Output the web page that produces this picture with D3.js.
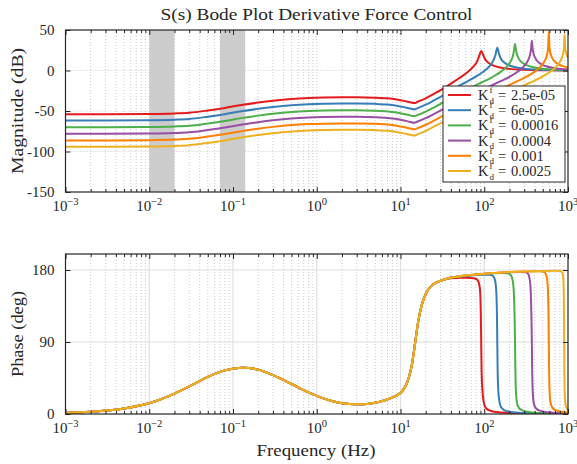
<!DOCTYPE html>
<html>
<head>
<meta charset="utf-8">
<script src="https://cdn.jsdelivr.net/npm/d3@7"></script>
<style>
  body { margin: 0; background: #fff; }
  text { font-family: "Liberation Serif", "Times New Roman", serif; fill: #262626; }
</style>
</head>
<body>
<svg id="chart" width="577" height="464"></svg>
<script>
// Derivative gains of the force loop, one curve each
const kdLabels = ["2.5e-05", "6e-05", "0.00016", "0.0004", "0.001", "0.0025"];
const colors = ["#e41a1c", "#377eb8", "#4daf4a", "#984ea3", "#ff7f00", "#edb120"];

// Magnitude (dB) below the 15 Hz notch, shared frequency grid
const freqLow = [0.001, 0.003, 0.01, 0.02, 0.03, 0.05, 0.08, 0.12, 0.2, 0.3, 0.5, 0.8, 1.2, 2, 3, 5, 7, 9, 11, 13, 14.6];
const magLow = [
  [-54.0, -54.0, -53.7, -53.0, -52.1, -49.3, -46.2, -43.0, -39.6, -37.3, -35.1, -33.9, -33.3, -33.0, -33.0, -33.5, -34.4, -35.8, -37.5, -39.3, -40.2],
  [-61.7, -61.7, -61.4, -60.7, -59.8, -57.0, -53.9, -50.7, -47.3, -45.0, -42.8, -41.6, -41.0, -40.7, -40.7, -41.2, -42.1, -43.5, -45.2, -47.0, -47.9],
  [-70.1, -70.1, -69.8, -69.1, -68.2, -65.4, -62.3, -59.1, -55.7, -53.4, -51.2, -50.0, -49.4, -49.1, -49.1, -49.6, -50.5, -51.9, -53.6, -55.4, -56.3],
  [-78.2, -78.2, -77.9, -77.2, -76.3, -73.5, -70.4, -67.2, -63.8, -61.5, -59.3, -58.1, -57.5, -57.2, -57.2, -57.7, -58.6, -60.0, -61.7, -63.5, -64.4],
  [-86.3, -86.3, -86.0, -85.3, -84.4, -81.6, -78.5, -75.3, -71.9, -69.6, -67.4, -66.2, -65.6, -65.3, -65.3, -65.8, -66.7, -68.1, -69.8, -71.6, -72.5],
  [-94.1, -94.1, -93.8, -93.1, -92.2, -89.4, -86.3, -83.1, -79.7, -77.4, -75.2, -74.0, -73.4, -73.1, -73.1, -73.6, -74.5, -75.9, -77.6, -79.4, -80.3]
];

// Magnitude (dB) above the notch, through each resonance
const magHighFreq = [
  [16, 20, 25, 32, 40, 50, 63, 75, 82.8, 87.4, 92, 96.6, 101.2, 112, 125, 150, 200, 300, 500, 1000],
  [16, 20, 25, 32, 40, 50, 63, 80, 100, 115, 128.7, 135.9, 143, 150.2, 157.3, 175, 200, 250, 320, 400, 600, 1000],
  [16, 20, 25, 32, 40, 50, 63, 80, 100, 125, 160, 185, 209.7, 221.4, 228.3, 233, 237.7, 244.7, 256.3, 290, 350, 450, 600, 800, 1000],
  [16, 20, 25, 32, 40, 50, 63, 80, 100, 125, 160, 200, 250, 295, 333, 351.5, 362.6, 370, 377.4, 388.5, 407, 460, 550, 700, 1000],
  [16, 20, 25, 32, 40, 50, 63, 80, 100, 125, 160, 200, 250, 320, 400, 470, 531, 560.5, 578.2, 590, 601.8, 619.5, 649, 730, 850, 1000],
  [16, 20, 25, 32, 40, 50, 63, 80, 100, 125, 160, 200, 250, 320, 400, 500, 630, 740, 819, 864.5, 891.8, 910, 928, 955.5, 1000]
];
const magHighDb = [
  [-38.6, -34.3, -28.9, -22.6, -16.1, -9.6, -2.1, 5.4, 12.0, 18.7, 24.0, 19.7, 14.8, 9.5, 6.6, 4.0, 2.0, 0.8, 0.3, 0.1],
  [-46.4, -42.2, -37.0, -31.0, -24.9, -19.1, -13.4, -7.3, -0.7, 5.0, 12.4, 19.1, 28.0, 20.5, 15.1, 9.5, 6.2, 3.4, 1.9, 1.2, 0.5, 0.2],
  [-55.0, -50.8, -45.7, -39.7, -33.9, -28.3, -23.1, -18.0, -13.2, -8.1, -1.1, 4.5, 12.5, 19.2, 27.0, 32.7, 27.5, 20.6, 15.2, 9.0, 5.1, 2.7, 1.4, 0.8, 0.5],
  [-63.0, -58.9, -53.8, -47.9, -42.0, -36.6, -31.5, -26.7, -22.4, -18.0, -12.9, -7.8, -1.6, 4.7, 12.5, 19.2, 27.0, 36.8, 27.5, 20.6, 15.2, 9.0, 5.2, 2.8, 1.3],
  [-71.2, -67.0, -61.9, -56.0, -50.2, -44.8, -39.8, -35.0, -30.9, -26.8, -22.1, -17.8, -13.2, -7.6, -1.4, 4.8, 12.5, 19.2, 27.0, 48.0, 27.5, 20.6, 15.2, 9.2, 5.7, 3.7],
  [-78.7, -74.5, -69.4, -63.6, -57.8, -52.4, -47.4, -42.7, -38.6, -34.5, -30.0, -26.0, -21.8, -17.0, -12.4, -7.3, -0.7, 5.8, 12.5, 19.2, 27.0, 44.0, 27.5, 20.6, 15.3]
];

// Phase (deg) common to all gains up to 32 Hz
const phaseLowFreq = [0.001, 0.002, 0.005, 0.01, 0.02, 0.03, 0.05, 0.08, 0.13, 0.2, 0.3, 0.5, 0.8, 1.2, 2, 3, 4, 5.5, 7.5, 10, 11.5, 12.6, 13.7, 15, 16.3, 17.8, 20, 23, 27, 32];
const phaseLowDeg = [1.4, 2.8, 7.0, 13.5, 25.5, 34.5, 46.5, 54.5, 57.8, 55.5, 48.5, 37.5, 27, 19.5, 13.5, 12.3, 12.6, 15, 19.5, 26.5, 35, 46, 62, 90, 116, 135, 150, 159.5, 164.5, 167.5];

// Phase (deg) from 40 Hz, each with its drop at resonance
const phaseHighFreq = [
  [40, 50, 63, 75, 82, 86, 89, 91, 92, 93, 95, 98.5, 104, 115, 140, 200, 400, 1000],
  [40, 50, 63, 80, 100, 115, 125, 132, 137, 140, 142, 143, 144.5, 147, 152, 160, 175, 220, 350, 600, 1000],
  [40, 50, 63, 80, 100, 130, 160, 190, 205, 215, 223, 228, 231, 233, 235, 238, 245, 258, 285, 350, 550, 1000],
  [40, 50, 63, 80, 100, 130, 160, 200, 260, 310, 330, 345, 355, 362, 367, 370, 373, 378, 388, 408, 450, 560, 1000],
  [40, 50, 63, 80, 100, 130, 160, 200, 300, 420, 500, 530, 555, 570, 580, 586, 590, 594, 601, 617, 650, 720, 900, 1000],
  [40, 50, 63, 80, 100, 130, 160, 200, 300, 500, 700, 820, 860, 880, 890, 896, 900, 904, 912, 930, 960, 1000]
];
const phaseHighDeg = [
  [169.8, 170.2, 170.4, 169.8, 168, 164, 155, 125, 90, 55, 30, 15, 8, 4.5, 2.5, 1.4, 0.6, 0.25],
  [170.3, 171.5, 172.6, 173.6, 174.2, 174.2, 173.2, 170, 162, 148, 120, 90, 55, 30, 15, 8, 4.5, 2.2, 1.0, 0.5, 0.3],
  [170.5, 172, 173.2, 174.2, 175, 175.8, 176.2, 176, 174.5, 170, 160, 140, 115, 90, 60, 32, 15, 8, 4.5, 2.3, 1.0, 0.4],
  [170.5, 172, 173.3, 174.4, 175.3, 176.2, 176.7, 177.2, 177.5, 177.3, 176, 171, 162, 142, 115, 90, 60, 32, 15, 8, 4.5, 2.3, 0.8],
  [170.5, 172, 173.3, 174.4, 175.4, 176.3, 176.9, 177.4, 178.0, 178.3, 178.2, 177, 172, 163, 145, 118, 90, 60, 32, 15, 8, 4.5, 2.3, 1.8],
  [170.5, 172, 173.3, 174.4, 175.4, 176.3, 176.9, 177.4, 178.1, 178.7, 179.0, 178.8, 176, 168, 150, 120, 90, 60, 30, 14, 8, 4.5]
];

// Shaded frequency bands (Hz) on the magnitude plot
const shadedBands = [[0.01, 0.02], [0.07, 0.14]];

const decadeTicks = [1e-3, 1e-2, 1e-1, 1e0, 1e1, 1e2, 1e3];
const magTicks = [-150, -100, -50, 0, 50];
const phaseTicks = [0, 90, 180];

const svg = d3.select("#chart");
const ink = "#262626";
const serif = '"Liberation Serif", "Times New Roman", serif';
const left = 65.5, right = 568;

const x = d3.scaleLog().domain([1e-3, 1e3]).range([left, right]);
const yMag = d3.scaleLinear().domain([-150, 50]).range([192, 30]);
const yPh = d3.scaleLinear().domain([0, 200]).range([414, 254]);

const minorTicks = [];
for (let e = -3; e < 3; e++) for (let k = 2; k <= 9; k++) minorTicks.push(k * Math.pow(10, e));

const magSeries = magLow.map((row, i) =>
  freqLow.map((f, j) => [f, row[j]])
    .concat(magHighFreq[i].map((f, j) => [f, magHighDb[i][j]])));
const phaseSeries = phaseHighFreq.map((fr, i) =>
  phaseLowFreq.map((f, j) => [f, phaseLowDeg[j]])
    .concat(fr.map((f, j) => [f, phaseHighDeg[i][j]])));

function panel(id, y, ticks, data, opts) {
  const [y0, y1] = y.range();
  const top = y1, bottom = y0;
  const g = svg.append("g");

  g.append("clipPath").attr("id", id + "-clip")
    .append("rect").attr("x", left).attr("y", top)
    .attr("width", right - left).attr("height", bottom - top);

  // grid
  const majorColor = opts.solidMajor ? "#dedede" : "#bdbdbd";
  const majorWidth = opts.solidMajor ? 1.2 : 0.8;
  const majorDash = opts.solidMajor ? null : "1,2";
  const grid = g.append("g");
  grid.selectAll(".minor").data(minorTicks).join("line")
    .attr("x1", d => x(d)).attr("x2", d => x(d)).attr("y1", top).attr("y2", bottom)
    .attr("stroke", "#bdbdbd").attr("stroke-width", 0.8).attr("stroke-dasharray", "1,2");
  grid.selectAll(".major").data(decadeTicks.slice(1, -1)).join("line")
    .attr("x1", d => x(d)).attr("x2", d => x(d)).attr("y1", top).attr("y2", bottom)
    .attr("stroke", majorColor).attr("stroke-width", majorWidth).attr("stroke-dasharray", majorDash);
  grid.selectAll(".hgrid").data(ticks.filter(t => t > y.domain()[0] && t < y.domain()[1])).join("line")
    .attr("x1", left).attr("x2", right).attr("y1", d => y(d)).attr("y2", d => y(d))
    .attr("stroke", majorColor).attr("stroke-width", majorWidth).attr("stroke-dasharray", majorDash);

  // shaded bands
  if (opts.bands) {
    g.append("g").selectAll("rect").data(opts.bands).join("rect")
      .attr("x", d => x(d[0])).attr("width", d => x(d[1]) - x(d[0]))
      .attr("y", top).attr("height", bottom - top).attr("fill", "#cccccc");
  }

  // curves
  const line = d3.line().x(d => x(d[0])).y(d => y(d[1])).curve(d3.curveMonotoneX);
  g.append("g").attr("clip-path", `url(#${id}-clip)`)
    .selectAll("path").data(data).join("path")
    .attr("d", line).attr("fill", "none")
    .attr("stroke", (d, i) => colors[i]).attr("stroke-width", 2)
    .attr("stroke-linejoin", "round");

  // axes with inward ticks on all four sides
  const fmtNone = () => "";
  const axes = g.append("g");
  axes.append("g").attr("transform", `translate(0,${bottom})`)
    .call(d3.axisBottom(x).tickValues(decadeTicks).tickSizeInner(-5).tickSizeOuter(0).tickFormat(fmtNone));
  axes.append("g").attr("transform", `translate(0,${bottom})`)
    .call(d3.axisBottom(x).tickValues(minorTicks).tickSizeInner(-3).tickSizeOuter(0).tickFormat(fmtNone));
  axes.append("g").attr("transform", `translate(0,${top})`)
    .call(d3.axisTop(x).tickValues(decadeTicks).tickSizeInner(-5).tickSizeOuter(0).tickFormat(fmtNone));
  axes.append("g").attr("transform", `translate(0,${top})`)
    .call(d3.axisTop(x).tickValues(minorTicks).tickSizeInner(-3).tickSizeOuter(0).tickFormat(fmtNone));
  axes.append("g").attr("transform", `translate(${left},0)`)
    .call(d3.axisLeft(y).tickValues(ticks).tickSizeInner(-5).tickSizeOuter(0).tickPadding(11)
      .tickFormat(d => String(d)));
  axes.append("g").attr("transform", `translate(${right},0)`)
    .call(d3.axisRight(y).tickValues(ticks).tickSizeInner(-5).tickSizeOuter(0).tickFormat(fmtNone));
  axes.selectAll(".domain").remove();
  axes.attr("font-family", serif);
  axes.selectAll("g").attr("font-family", serif);
  axes.selectAll(".tick line").attr("stroke", ink).attr("stroke-width", 1);
  axes.selectAll(".tick text").style("font-size", "15px").attr("fill", ink)
    .style("font-family", serif);

  // decade labels 10^n
  const lab = g.append("g");
  decadeTicks.forEach(v => {
    const e = Math.round(Math.log10(v));
    const t = lab.append("text").attr("x", x(v)).attr("y", bottom + 18.5)
      .attr("text-anchor", "middle").style("font-size", "15px");
    t.append("tspan").text("10");
    t.append("tspan").attr("dy", -6).style("font-size", "10.5px")
      .text(e < 0 ? "\u2212" + (-e) : String(e));
  });

  // frame
  g.append("rect").attr("x", left).attr("y", top)
    .attr("width", right - left).attr("height", bottom - top)
    .attr("fill", "none").attr("stroke", ink).attr("stroke-width", 1.2);

  // y label
  g.append("text")
    .attr("transform", `translate(23,${(top + bottom) / 2}) rotate(-90)`)
    .attr("text-anchor", "middle").style("font-size", "16.5px")
    .attr("textLength", opts.ylabelLength).attr("lengthAdjust", "spacingAndGlyphs")
    .text(opts.ylabel);

  return g;
}

panel("mag", yMag, magTicks, magSeries,
  { bands: shadedBands, solidMajor: false, ylabel: "Magnitude (dB)", ylabelLength: 126 });
panel("ph", yPh, phaseTicks, phaseSeries,
  { solidMajor: true, ylabel: "Phase (deg)", ylabelLength: 86 });

// title and x label
svg.append("text").attr("x", 316.5).attr("y", 19.5).attr("text-anchor", "middle")
  .style("font-size", "16.5px").attr("textLength", 312).attr("lengthAdjust", "spacingAndGlyphs")
  .text("S(s) Bode Plot Derivative Force Control");
svg.append("text").attr("x", 316).attr("y", 456).attr("text-anchor", "middle")
  .style("font-size", "16.5px").attr("textLength", 119).attr("lengthAdjust", "spacingAndGlyphs")
  .text("Frequency (Hz)");

// legend
const leg = svg.append("g");
const legX = 443, legY = 86, legW = 122, legH = 96, rowH = 15.2;
leg.append("rect").attr("x", legX).attr("y", legY).attr("width", legW).attr("height", legH)
  .attr("fill", "#fff").attr("stroke", ink).attr("stroke-width", 1);
kdLabels.forEach((lbl, i) => {
  const cy = legY + 9 + i * rowH;
  leg.append("line").attr("x1", legX + 5).attr("x2", legX + 28).attr("y1", cy).attr("y2", cy)
    .attr("stroke", colors[i]).attr("stroke-width", 2);
  const tx = legX + 35;
  const k = leg.append("text").attr("x", tx).attr("y", cy + 5).style("font-size", "14.5px").text("K");
  const kw = k.node().getComputedTextLength();
  leg.append("text").attr("x", tx + kw + 1).attr("y", cy - 2.2).style("font-size", "9px").text("f");
  leg.append("text").attr("x", tx + kw + 1).attr("y", cy + 8.6).style("font-size", "9px").text("d");
  leg.append("text").attr("x", legX + 55).attr("y", cy + 5).style("font-size", "14.5px").text("=");
  leg.append("text").attr("x", legX + 68).attr("y", cy + 5).style("font-size", "14.5px").text(lbl);
});
</script>
</body>
</html>
